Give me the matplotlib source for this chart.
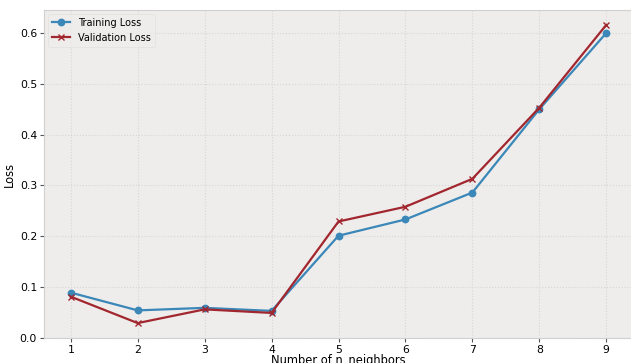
import matplotlib
matplotlib.use('Agg')
import matplotlib.pyplot as plt

plt.style.use('bmh')

n_neighbors = [1, 2, 3, 4, 5, 6, 7, 8, 9]
train_loss = [0.089, 0.054, 0.059, 0.053, 0.201, 0.233, 0.286, 0.450, 0.600]
val_loss = [0.081, 0.029, 0.056, 0.049, 0.229, 0.258, 0.313, 0.453, 0.616]

fig = plt.figure(figsize=(6.31, 3.63), dpi=100)
ax = fig.add_axes([44 / 631, 25 / 363, 589 / 631, 328 / 363])
ax.set_facecolor('#EEEDEC')

ax.plot(n_neighbors, train_loss, marker='o', markersize=4.6, linewidth=1.6,
        color='#3A87B8', label='Training Loss')
ax.plot(n_neighbors, val_loss, marker='x', markersize=4.8, linewidth=1.6,
        color='#A2262E', label='Validation Loss')

ax.set_xticks(n_neighbors)
ax.tick_params(labelsize=7.8, length=3, width=0.8, color='#555555', direction='out', pad=2)
ax.set_xlabel('Number of n_neighbors', fontsize=8.3, labelpad=-1)
ax.set_ylabel('Loss', fontsize=8.3, labelpad=3)
ax.grid(True, linestyle=':', linewidth=0.8, color='#D6D6D6')
for s in ax.spines.values():
    s.set_color('#D0D0D0')
ax.legend(loc='upper left', fontsize=7, facecolor='#EEEDEC', edgecolor='#DDDDDD',
          handlelength=1.9, borderaxespad=0.4)

fig.savefig('out.png', dpi=100)
